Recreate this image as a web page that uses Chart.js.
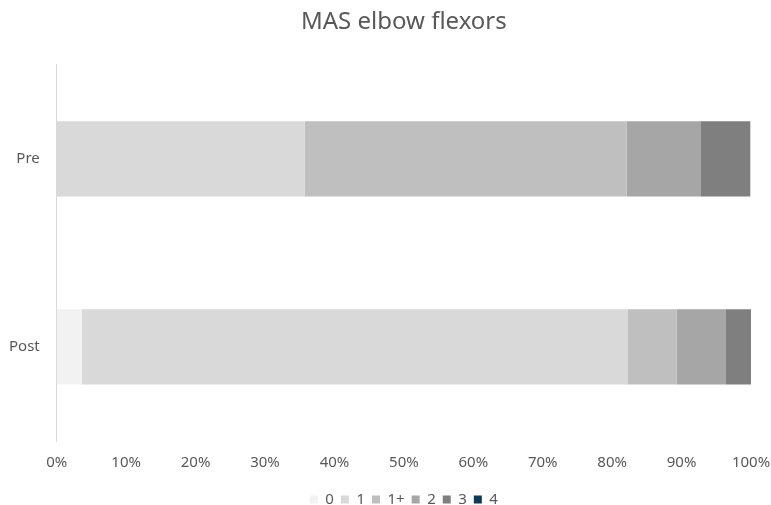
<!DOCTYPE html>
<html>
<head>
<meta charset="utf-8">
<script src="https://cdn.jsdelivr.net/npm/chart.js@4"></script>
<style>
  html, body { margin: 0; padding: 0; background: #fff; }
  #wrap { width: 771px; height: 505px; }
</style>
</head>
<body>
<div id="wrap"><canvas id="chart" width="771" height="505"></canvas></div>
<script>
// MAS grades, share of patients (%) per grade
const groups = ["Pre", "Post"];
const grades = ["0", "1", "1+", "2", "3", "4"];
const grade0 = [0, 3.6];
const grade1 = [35.7, 78.6];
const grade1plus = [46.4, 7.1];
const grade2 = [10.7, 7.1];
const grade3 = [7.1, 3.6];
const grade4 = [0, 0];
const xTicks = [0, 10, 20, 30, 40, 50, 60, 70, 80, 90, 100];

const colors = ["#f2f2f2", "#d9d9d9", "#bfbfbf", "#a6a6a6", "#7f7f7f", "#0e3a5a"];
const seriesValues = [grade0, grade1, grade1plus, grade2, grade3, grade4];

const font = "'Noto Sans', 'DejaVu Sans', sans-serif";
const textColor = "#595959";

const ctx = document.getElementById("chart").getContext("2d");
new Chart(ctx, {
  type: "bar",
  data: {
    labels: groups,
    datasets: grades.map((g, i) => ({
      label: g,
      data: seriesValues[i],
      backgroundColor: colors[i],
      borderWidth: 0,
      barPercentage: 0.8,
      categoryPercentage: 0.5,
    })),
  },
  options: {
    indexAxis: "y",
    responsive: false,
    animation: false,
    layout: { padding: { left: -8, right: 20, top: 8, bottom: -12 } },
    plugins: {
      title: {
        display: true,
        fullSize: false,
        text: "MAS elbow flexors",
        color: textColor,
        font: { family: font, size: 24, weight: "normal" },
        padding: { top: 0, bottom: 28 },
      },
      legend: {
        position: "bottom",
        fullSize: false,
        labels: {
          color: textColor,
          font: { family: font, size: 15 },
          boxWidth: 8,
          boxHeight: 8,
          padding: 7,
        },
      },
      tooltip: { enabled: false },
    },
    scales: {
      x: {
        stacked: true,
        min: 0,
        max: 100,
        afterBuildTicks: (axis) => {
          axis.ticks = xTicks.map((v) => ({ value: v }));
        },
        afterFit: (axis) => {
          // let the last label hang over the right margin
          axis.paddingRight = 0;
        },
        ticks: {
          color: textColor,
          font: { family: font, size: 15 },
          callback: (v) => v + "%",
          maxRotation: 0,
          padding: 13,
        },
        grid: { display: false, drawTicks: false },
        border: { display: false },
      },
      y: {
        stacked: true,
        ticks: {
          color: textColor,
          font: { family: font, size: 15 },
          padding: 17,
        },
        grid: { display: false, drawTicks: false },
        border: { display: true, color: "#d9d9d9", width: 1 },
      },
    },
  },
});
</script>
</body>
</html>
